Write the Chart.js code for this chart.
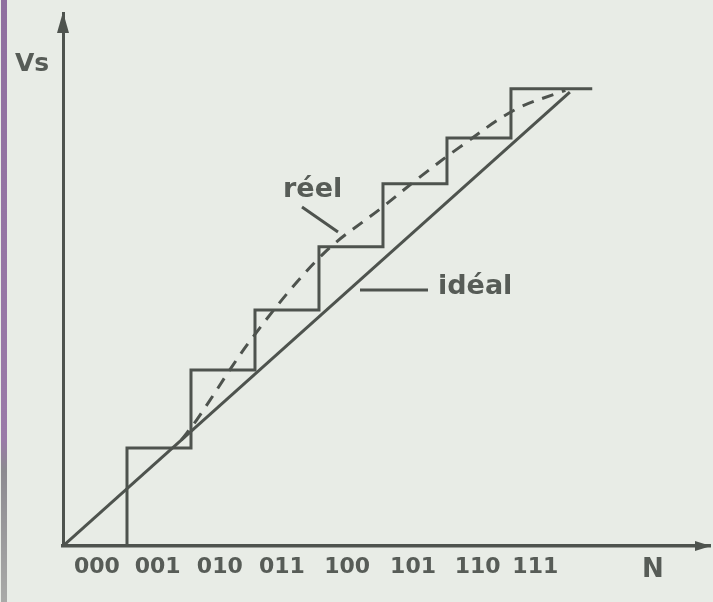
<!DOCTYPE html>
<html>
<head>
<meta charset="utf-8">
<script src="https://cdn.jsdelivr.net/npm/chart.js@4"></script>
<style>
  html, body { margin: 0; padding: 0; background: #e8ece6; }
  #wrap { position: relative; width: 713px; height: 602px; }
  #edge { position: absolute; left: 1px; top: 0; width: 6px; height: 602px;
          background: linear-gradient(to bottom, #8f6f9f 0px, #9a7aa8 440px, #8c8a90 470px, #a9aaa8 602px); }
</style>
</head>
<body>
<div id="wrap">
  <canvas id="dac" width="713" height="602"></canvas>
  <div id="edge"></div>
</div>
<script>
// codes N (x axis) and output Vs (y axis, in LSB units)
const codeLabels = ['000', '001', '010', '011', '100', '101', '110', '111'];
const labelPos = [0.53, 1.48, 2.45, 3.42, 4.44, 5.47, 6.48, 7.38];

// staircase (real converter output)
const stepN = [0, 1, 2, 3, 4, 5, 6, 7, 8.27];
const stepVs = [0, 1.71, 3.07, 4.12, 5.22, 6.32, 7.12, 7.98, 7.98];

// ideal straight line
const idealN = [0, 7.92];
const idealVs = [0, 7.92];

// real characteristic (dashed)
const reelN = [1.85, 2.09, 2.97, 4.05, 5.0, 5.58, 6.2, 7.06, 7.85];
const reelVs = [1.85, 2.2, 3.65, 5.08, 5.92, 6.44, 6.96, 7.61, 7.95];

const ink = '#4e534e';
const txt = '#575c57';

const pts = (xs, ys) => xs.map((x, i) => ({ x: x, y: ys[i] }));

const decor = {
  id: 'decor',
  afterDraw(chart) {
    const ctx = chart.ctx;
    const a = chart.chartArea;
    ctx.save();
    ctx.fillStyle = ink;
    // arrow heads
    ctx.beginPath();
    ctx.moveTo(a.left - 6, a.top + 20);
    ctx.lineTo(a.left + 6, a.top + 20);
    ctx.lineTo(a.left, a.top - 1);
    ctx.closePath();
    ctx.fill();
    ctx.beginPath();
    ctx.moveTo(a.right - 15, a.bottom - 5);
    ctx.lineTo(a.right - 15, a.bottom + 5);
    ctx.lineTo(a.right + 1, a.bottom);
    ctx.closePath();
    ctx.fill();

    // leader lines
    ctx.strokeStyle = ink;
    ctx.lineWidth = 3;
    ctx.beginPath();
    ctx.moveTo(302, 207);
    ctx.lineTo(338, 232);
    ctx.moveTo(360, 290);
    ctx.lineTo(428, 290);
    ctx.stroke();

    // texts
    ctx.fillStyle = txt;
    ctx.textBaseline = 'middle';
    ctx.textAlign = 'left';
    ctx.font = 'bold 27px "DejaVu Sans"';
    ctx.fillText('réel', 283, 190);
    ctx.fillText('idéal', 438, 287);
    ctx.font = 'bold 25px "DejaVu Sans"';
    ctx.fillText('Vs', 15, 64);
    ctx.textAlign = 'center';
    ctx.font = 'bold 26px "DejaVu Sans"';
    ctx.fillText('N', 653, 570);
    ctx.restore();
  }
};

new Chart(document.getElementById('dac'), {
  type: 'line',
  data: {
    datasets: [
      {
        label: 'escalier',
        data: pts(stepN, stepVs),
        stepped: 'before',
        borderColor: ink,
        borderWidth: 3,
        pointRadius: 0,
        fill: false
      },
      {
        label: 'idéal',
        data: pts(idealN, idealVs),
        borderColor: ink,
        borderWidth: 3,
        pointRadius: 0,
        fill: false
      },
      {
        label: 'réel',
        data: pts(reelN, reelVs),
        borderColor: ink,
        borderWidth: 3,
        borderDash: [12, 9],
        tension: 0.35,
        pointRadius: 0,
        fill: false
      }
    ]
  },
  options: {
    responsive: false,
    animation: false,
    layout: { padding: { top: 13, right: 3, left: 0, bottom: 0 } },
    plugins: { legend: { display: false }, tooltip: { enabled: false } },
    scales: {
      x: {
        type: 'linear',
        min: 0,
        max: 10.11,
        afterFit: s => { s.height = 56; },
        afterBuildTicks: s => { s.ticks = labelPos.map(v => ({ value: v })); },
        grid: { display: false, drawTicks: false },
        border: { display: true, color: ink, width: 3.5 },
        ticks: {
          autoSkip: false,
          maxRotation: 0,
          padding: 8,
          color: txt,
          font: { family: 'DejaVu Sans', size: 22, weight: 'bold' },
          callback: (v, i) => codeLabels[i]
        }
      },
      y: {
        type: 'linear',
        min: 0,
        max: 9.3,
        afterFit: s => { s.width = 63; },
        grid: { display: false, drawTicks: false },
        border: { display: true, color: ink, width: 3 },
        ticks: { display: false }
      }
    }
  },
  plugins: [decor]
});
</script>
</body>
</html>
